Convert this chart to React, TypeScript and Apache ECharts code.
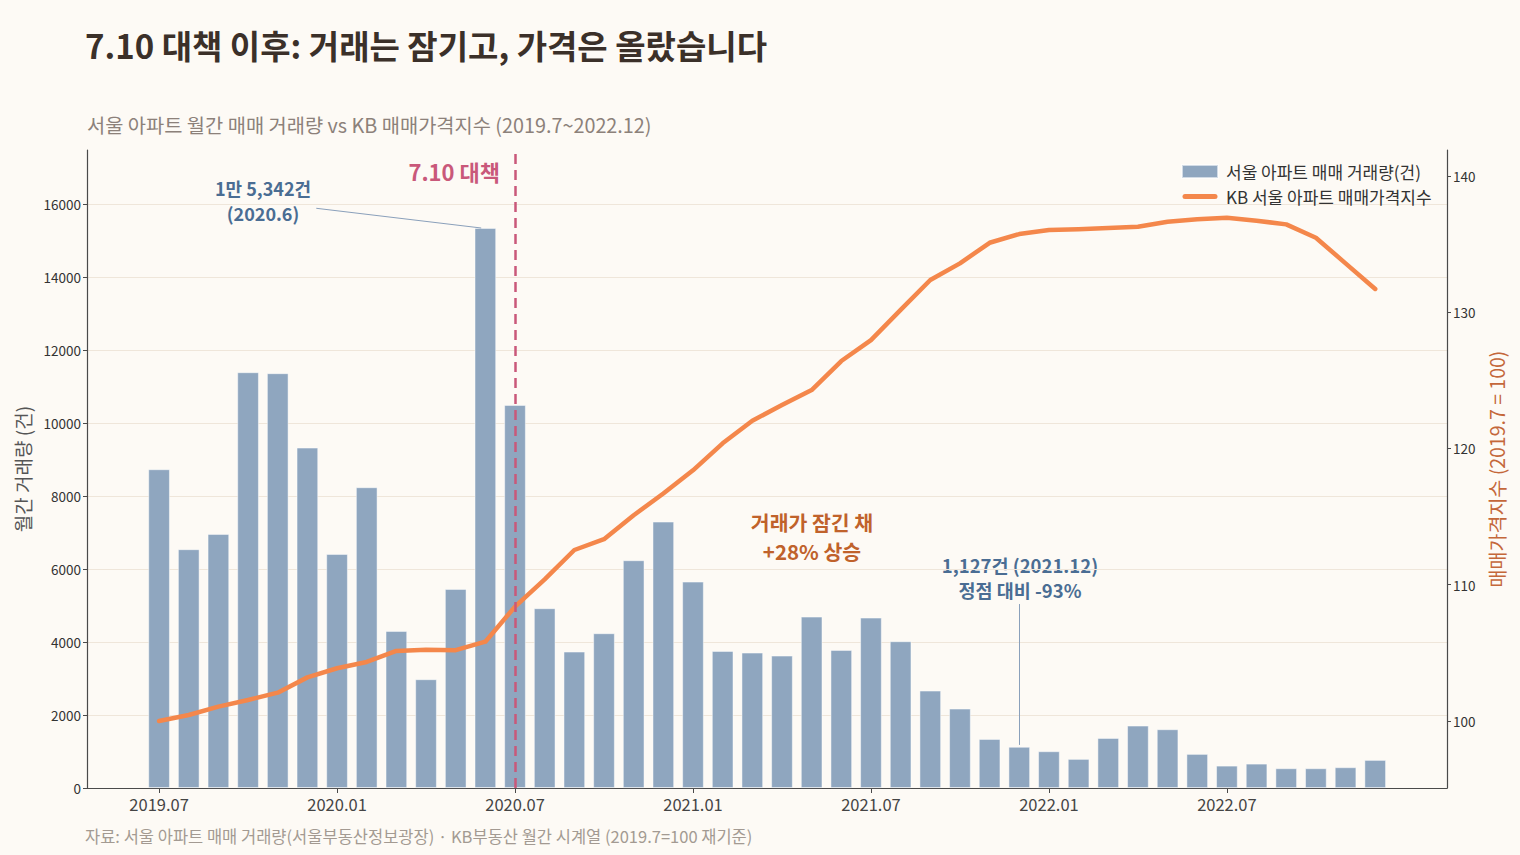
import React, { useEffect, useRef } from "react";
import * as echarts from "echarts";

const months = [
  "2019.07", "2019.08", "2019.09", "2019.10", "2019.11", "2019.12",
  "2020.01", "2020.02", "2020.03", "2020.04", "2020.05", "2020.06",
  "2020.07", "2020.08", "2020.09", "2020.10", "2020.11", "2020.12",
  "2021.01", "2021.02", "2021.03", "2021.04", "2021.05", "2021.06",
  "2021.07", "2021.08", "2021.09", "2021.10", "2021.11", "2021.12",
  "2022.01", "2022.02", "2022.03", "2022.04", "2022.05", "2022.06",
  "2022.07", "2022.08", "2022.09", "2022.10", "2022.11", "2022.12",
];

const volume = [
  8731, 6540, 6959, 11389, 11362, 9324,
  6411, 8238, 4301, 2978, 5452, 15342,
  10493, 4923, 3735, 4238, 6238, 7296,
  5652, 3753, 3707, 3625, 4693, 3781,
  4666, 4019, 2666, 2173, 1342, 1127,
  1005, 795, 1370, 1707, 1608, 932,
  611, 666, 539, 539, 567, 767,
];

const priceIndex = [
  100.0, 100.44, 101.05, 101.54, 102.08, 103.2,
  103.87, 104.33, 105.14, 105.23, 105.2, 105.82,
  108.39, 110.4, 112.55, 113.34, 115.1, 116.7,
  118.4, 120.38, 122.04, 123.19, 124.29, 126.42,
  127.96, 130.17, 132.37, 133.59, 135.1, 135.74,
  136.04, 136.09, 136.18, 136.28, 136.65, 136.82,
  136.94, 136.72, 136.45, 135.47, 133.59, 131.71,
];

const monthTicks = [0, 6, 12, 18, 24, 30, 36];
const volumeTicks = [0, 2000, 4000, 6000, 8000, 10000, 12000, 14000, 16000];
const indexTicks = [100, 110, 120, 130, 140];

const FONT = '"Noto Sans CJK KR", "Noto Sans", sans-serif';

function txt(x: number, y: number, text: string, o: any) {
  return {
    type: "text",
    x,
    y,
    silent: true,
    style: {
      text,
      fontFamily: FONT,
      fontSize: o.size,
      fontWeight: o.bold ? "bold" : "normal",
      fill: o.color,
      align: o.align || "left",
      textAlign: o.align || "left",
      verticalAlign: "middle",
      textVerticalAlign: "middle",
    },
  };
}

const LINE_ICON = "path://M0,0M36,13M3,4A2.5,2.5 0 0 0 3,9L33,9A2.5,2.5 0 0 0 33,4Z";

export default function App() {
  const ref = useRef<HTMLDivElement>(null);
  useEffect(() => {
    document.body.style.margin = "0";
    const chart = echarts.init(ref.current!, null, { renderer: "svg" });
    const option: any = {
      animation: false,
      backgroundColor: "#fdfaf5",
      textStyle: { fontFamily: FONT },
      grid: { left: 87, right: 73, top: 150, bottom: 67 },
      legend: {
        orient: "vertical",
        left: 1176,
        top: 158,
        itemWidth: 36,
        itemHeight: 13,
        itemGap: 8,
        textStyle: { fontSize: 17, color: "#333", fontFamily: FONT, padding: [0, 0, 0, 3] },
        data: [
          { name: "서울 아파트 매매 거래량(건)", icon: "rect" },
          { name: "KB 서울 아파트 매매가격지수", icon: LINE_ICON, itemStyle: { color: "#f4874b" } },
        ],
      },
      xAxis: {
        type: "value",
        min: -2.43,
        max: 43.42,
        axisLine: { show: true, onZero: false, lineStyle: { color: "#4a4a4a", width: 1.2 } },
        axisTick: { show: true, customValues: monthTicks, length: 5, lineStyle: { color: "#4a4a4a" } },
        axisLabel: {
          customValues: monthTicks,
          formatter: (v: number) => months[Math.round(v)],
          fontSize: 16.5,
          color: "#444",
          margin: 8,
          fontFamily: FONT,
        },
        splitLine: { show: false },
      },
      yAxis: [
        {
          type: "value",
          position: "left",
          min: 0,
          max: 17479,
          axisLine: { show: true, onZero: false, lineStyle: { color: "#4a4a4a", width: 1.2 } },
          axisTick: { show: true, customValues: volumeTicks, length: 4, lineStyle: { color: "#4a4a4a" } },
          axisLabel: {
            customValues: volumeTicks,
            formatter: (v: number) => String(v),
            fontSize: 13.5,
            color: "#333",
            margin: 6,
            fontFamily: FONT,
          },
          splitLine: { show: true, lineStyle: { color: "#efe6da", width: 1 } },
          name: "월간 거래량 (건)",
          nameLocation: "middle",
          nameGap: 55,
          nameTextStyle: { fontSize: 19, color: "#555", fontFamily: FONT },
        },
        {
          type: "value",
          position: "right",
          min: 95.08,
          max: 141.91,
          axisLine: { show: true, onZero: false, lineStyle: { color: "#4a4a4a", width: 1.2 } },
          axisTick: { show: true, customValues: indexTicks, length: 4, lineStyle: { color: "#4a4a4a" } },
          axisLabel: {
            customValues: indexTicks,
            formatter: (v: number) => String(v),
            fontSize: 13.5,
            color: "#333",
            margin: 6,
            fontFamily: FONT,
          },
          splitLine: { show: false },
          name: "매매가격지수 (2019.7 = 100)",
          nameLocation: "middle",
          nameGap: 38,
          nameTextStyle: { fontSize: 19.5, color: "#c4673a", fontFamily: FONT },
        },
      ],
      series: [
        {
          type: "bar",
          name: "서울 아파트 매매 거래량(건)",
          yAxisIndex: 0,
          data: volume.map((v, i) => [i, v]),
          barWidth: 21.5,
          itemStyle: { color: "#8fa6bf", borderColor: "rgba(255,255,255,0.6)", borderWidth: 0.8 },
          markLine: {
            silent: true,
            symbol: ["none", "none"],
            label: { show: false },
            lineStyle: { color: "#8aa0bb", width: 1, type: "solid" },
            data: [
              [{ coord: [5.3, 15882] }, { coord: [10.86, 15342] }],
              [{ coord: [29, 5040] }, { coord: [29, 1180] }],
            ],
          },
        },
        {
          type: "line",
          name: "KB 서울 아파트 매매가격지수",
          yAxisIndex: 1,
          data: priceIndex.map((v, i) => [i, v]),
          symbol: "none",
          z: 3,
          lineStyle: { color: "#f4874b", width: 4.5, cap: "round", join: "round" },
          itemStyle: { color: "#f4874b" },
          markLine: {
            silent: true,
            symbol: ["none", "none"],
            label: { show: false },
            lineStyle: { color: "#c9587a", width: 2.5, type: [10, 6] },
            data: [{ xAxis: 12 }],
          },
        },
      ],
      graphic: [
        txt(85, 45, "7.10 대책 이후: 거래는 잠기고, 가격은 올랐습니다", { size: 33, bold: true, color: "#3b3029" }),
        txt(87, 124, "서울 아파트 월간 매매 거래량 vs KB 매매가격지수 (2019.7~2022.12)", { size: 19.8, color: "#8c817a" }),
        txt(85, 836, "자료: 서울 아파트 매매 거래량(서울부동산정보광장) · KB부동산 월간 시계열 (2019.7=100 재기준)", { size: 16.5, color: "#a39a92" }),
        txt(500, 171, "7.10 대책", { size: 22, bold: true, color: "#c9587a", align: "right" }),
        txt(263, 188, "1만 5,342건", { size: 18, bold: true, color: "#4a6d93", align: "center" }),
        txt(263, 213, "(2020.6)", { size: 18, bold: true, color: "#4a6d93", align: "center" }),
        txt(812, 522, "거래가 잠긴 채", { size: 20.5, bold: true, color: "#c0622b", align: "center" }),
        txt(812, 551, "+28% 상승", { size: 20.5, bold: true, color: "#c0622b", align: "center" }),
        txt(1020, 565, "1,127건 (2021.12)", { size: 18.5, bold: true, color: "#4a6d93", align: "center" }),
        txt(1020, 590, "정점 대비 -93%", { size: 18.5, bold: true, color: "#4a6d93", align: "center" }),
      ],
    };
    chart.setOption(option);
    return () => chart.dispose();
  }, []);
  return <div ref={ref} style={{ position: "absolute", left: 0, top: 0, width: 1520, height: 855 }} />;
}
